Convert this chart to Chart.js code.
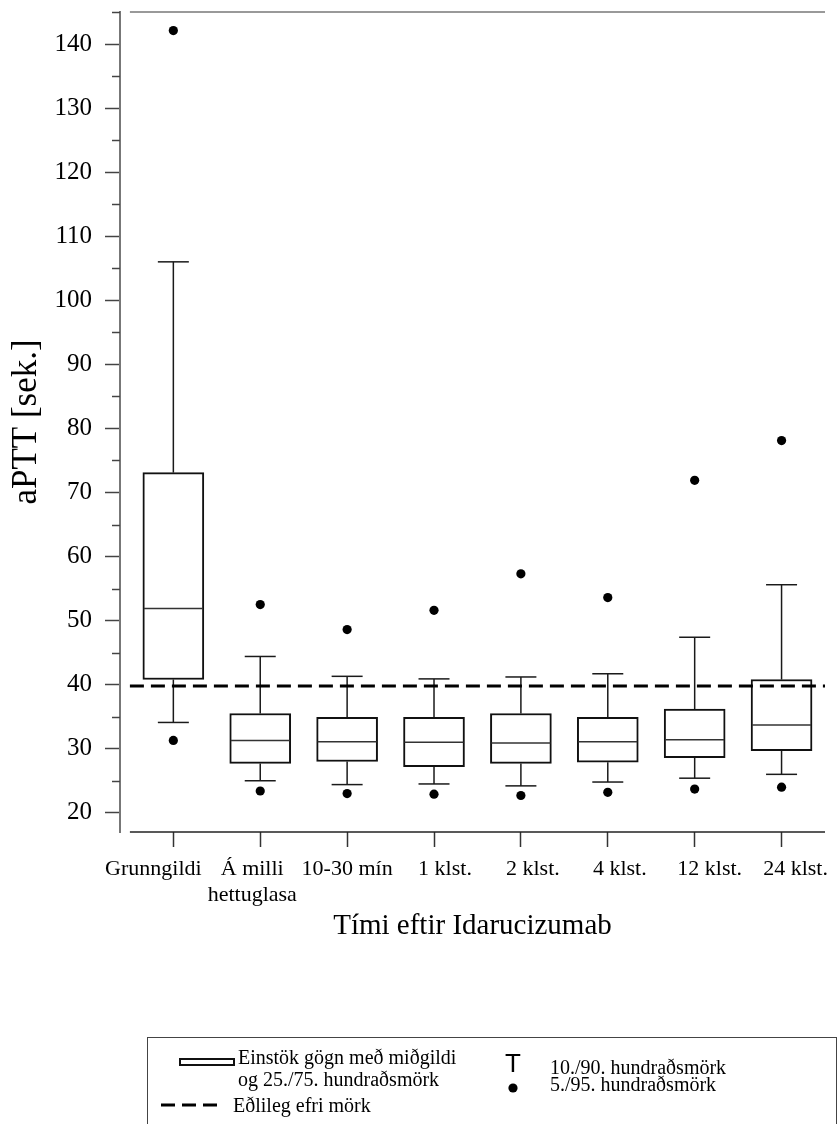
<!DOCTYPE html>
<html>
<head>
<meta charset="utf-8">
<script src="https://cdn.jsdelivr.net/npm/chart.js@4.4.1/dist/chart.umd.min.js"></script>
<style>
  html, body { margin: 0; padding: 0; background: #fff; }
  #wrap { position: relative; width: 838px; height: 1124px; overflow: hidden; }
  #c { position: absolute; left: 0; top: 0; }
  #legend {
    position: absolute; left: 147px; top: 1037px; width: 688px; height: 100px;
    border: 1px solid #444; border-bottom: none;
    font-family: "Liberation Serif", "Times New Roman", serif; font-size: 20px; color: #000;
  }
  #legend .t { position: absolute; white-space: nowrap; line-height: 22px; }
  #legend svg { position: absolute; left: 0; top: 0; }
</style>
</head>
<body>
<div id="wrap">
  <canvas id="c" width="838" height="1124"></canvas>
  <div id="legend">
    <svg width="688" height="100">
      <rect x="32" y="21" width="54" height="6" fill="#fff" stroke="#111" stroke-width="2"/>
      <text x="365" y="34" font-family="Liberation Sans, Arial, sans-serif" font-size="26" text-anchor="middle" fill="#000">T</text>
      <circle cx="365" cy="50" r="4.6" fill="#000"/>
      <line x1="13" y1="67" x2="69" y2="67" stroke="#000" stroke-width="3" stroke-dasharray="14 7"/>
    </svg>
    <div class="t" style="left:90px; top:8px;">Einstök gögn með miðgildi<br>og 25./75. hundraðsmörk</div>
    <div class="t" style="left:402px; top:18px;">10./90. hundraðsmörk</div>
    <div class="t" style="left:402px; top:35px;">5./95. hundraðsmörk</div>
    <div class="t" style="left:85px; top:56px;">Eðlileg efri mörk</div>
  </div>
</div>
<script>
// aPTT (sek.) distribution per time point after Idarucizumab
const categories = [
  ['Grunngildi'], ['Á milli', 'hettuglasa'], ['10-30 mín'], ['1 klst.'],
  ['2 klst.'], ['4 klst.'], ['12 klst.'], ['24 klst.']
];
const p5     = [31.3, 23.4, 23.0, 22.9, 22.7, 23.2, 23.7, 24.0];
const p10    = [34.1, 25.0, 24.4, 24.5, 24.2, 24.8, 25.4, 26.0];
const q1     = [40.8, 27.7, 28.0, 27.2, 27.7, 27.9, 28.6, 29.7];
const median = [51.9, 31.3, 31.1, 31.0, 30.9, 31.1, 31.4, 33.7];
const q3     = [73.1, 35.5, 34.9, 34.9, 35.5, 34.9, 36.2, 40.8];
const p90    = [106.0, 44.4, 41.3, 40.9, 41.2, 41.7, 47.4, 55.6];
const p95    = [142.1, 52.5, 48.6, 51.6, 57.3, 53.6, 71.9, 78.1];
const upperNormal = 39.8;                 // upper limit of normal range
const yTickValues  = [20, 30, 40, 50, 60, 70, 80, 90, 100, 110, 120, 130, 140];
const yMinorValues = [25, 35, 45, 55, 65, 75, 85, 95, 105, 115, 125, 135, 145];

const SERIF = '"Liberation Serif", "Times New Roman", serif';
const BOX_W = 61, CAP_W = 31;
// horizontal nudges (px) for the category labels, spreading them slightly wider than the ticks
const LABEL_NUDGE = [-20, -8, 0, 11, 12, 12, 15, 14];

function seg(ctx, x1, y1, x2, y2) {
  ctx.beginPath(); ctx.moveTo(x1, y1); ctx.lineTo(x2, y2); ctx.stroke();
}

// whiskers, medians, reference line and axis frame
const boxParts = {
  id: 'boxParts',
  beforeDraw(chart) {
    const items = chart.scales.x.getLabelItems();
    items.forEach((it, i) => {
      if (!it._nudged) { it.options.translation[0] += LABEL_NUDGE[i] || 0; it._nudged = true; }
    });
  },
  beforeDatasetsDraw(chart) {
    const { ctx, scales: { x, y } } = chart;
    ctx.save();
    ctx.strokeStyle = '#1a1a1a';
    ctx.lineWidth = 1.5;
    categories.forEach((_, i) => {
      const cx = x.getPixelForValue(i);
      const yHi = y.getPixelForValue(p90[i]);
      const yLo = y.getPixelForValue(p10[i]);
      seg(ctx, cx, y.getPixelForValue(q3[i]), cx, yHi);
      seg(ctx, cx - CAP_W / 2, yHi, cx + CAP_W / 2, yHi);
      seg(ctx, cx, y.getPixelForValue(q1[i]), cx, yLo);
      seg(ctx, cx - CAP_W / 2, yLo, cx + CAP_W / 2, yLo);
    });
    ctx.restore();
  },
  afterDatasetsDraw(chart) {
    const { ctx, chartArea, scales: { x, y } } = chart;
    ctx.save();
    // medians
    ctx.strokeStyle = '#333';
    ctx.lineWidth = 1.5;
    categories.forEach((_, i) => {
      const cx = x.getPixelForValue(i);
      const ym = y.getPixelForValue(median[i]);
      seg(ctx, cx - BOX_W / 2 + 1, ym, cx + BOX_W / 2 - 1, ym);
    });
    const xl = x.getPixelForValue(-0.5);
    // dashed upper normal limit
    ctx.strokeStyle = '#000';
    ctx.lineWidth = 3;
    ctx.setLineDash([14, 7]);
    const yn = y.getPixelForValue(upperNormal);
    seg(ctx, xl, yn, chartArea.right, yn);
    ctx.setLineDash([]);
    // x axis line and top frame line
    ctx.lineWidth = 1.5;
    ctx.strokeStyle = '#222';
    seg(ctx, xl, chartArea.bottom, chartArea.right, chartArea.bottom);
    ctx.strokeStyle = '#777';
    seg(ctx, xl, chartArea.top, chartArea.right, chartArea.top);
    // minor y ticks
    ctx.strokeStyle = '#444';
    yMinorValues.forEach(v => {
      const yy = Math.round(y.getPixelForValue(v)) + 0.5;
      seg(ctx, chartArea.left - 8, yy, chartArea.left, yy);
    });
    ctx.restore();
  }
};

const xMin = -0.614, xMax = 7.5;

new Chart(document.getElementById('c'), {
  type: 'bar',
  data: {
    datasets: [
      {
        label: 'Einstök gögn með miðgildi og 25./75. hundraðsmörk',
        data: categories.map((_, i) => ({ x: i, y: [q1[i], q3[i]] })),
        backgroundColor: '#fff',
        borderColor: '#111',
        borderWidth: 2,
        borderSkipped: false,
        barThickness: BOX_W
      },
      {
        type: 'line',
        label: '5. hundraðsmörk',
        data: categories.map((_, i) => ({ x: i, y: p5[i] })),
        showLine: false,
        pointRadius: 4.6,
        pointBorderWidth: 0,
        pointBackgroundColor: '#000'
      },
      {
        type: 'line',
        label: '95. hundraðsmörk',
        data: categories.map((_, i) => ({ x: i, y: p95[i] })),
        showLine: false,
        pointRadius: 4.6,
        pointBorderWidth: 0,
        pointBackgroundColor: '#000'
      }
    ]
  },
  options: {
    responsive: false,
    animation: false,
    devicePixelRatio: 1,
    layout: { padding: { top: 12, right: 13, left: 0, bottom: 180 } },
    plugins: { legend: { display: false }, tooltip: { enabled: false } },
    scales: {
      x: {
        type: 'linear',
        offset: false,
        min: xMin,
        max: xMax,
        afterBuildTicks: s => { s.ticks = categories.map((_, i) => ({ value: i })); },
        afterFit: s => { s.height = 112; s.paddingLeft = 0; s.paddingRight = 0; },
        ticks: {
          callback: v => categories[v],
          autoSkip: false,
          maxRotation: 0,
          padding: 9,
          color: '#000',
          font: { family: SERIF, size: 22 }
        },
        grid: { offset: false, drawOnChartArea: false, drawTicks: true, tickLength: 15, tickColor: '#333', tickWidth: 1.5 },
        border: { display: false },
        title: {
          display: true,
          text: 'Tími eftir Idarucizumab',
          color: '#000',
          font: { family: SERIF, size: 29 },
          padding: { top: 0, bottom: 0 }
        }
      },
      y: {
        min: 17,
        max: 145,
        afterBuildTicks: s => { s.ticks = yTickValues.map(v => ({ value: v })); },
        afterFit: s => { s.width = 120; s.paddingTop = 0; s.paddingBottom = 0; },
        ticks: { padding: 13, color: '#000', font: { family: SERIF, size: 25 } },
        grid: { drawOnChartArea: false, drawTicks: true, tickLength: 15, tickColor: '#444', tickWidth: 1.5 },
        border: { display: true, color: '#777', width: 2 },
        title: {
          display: true,
          text: 'aPTT [sek.]',
          color: '#000',
          font: { family: SERIF, size: 35 },
          padding: { top: 6, bottom: 0 }
        }
      }
    }
  },
  plugins: [boxParts]
});
</script>
</body>
</html>
